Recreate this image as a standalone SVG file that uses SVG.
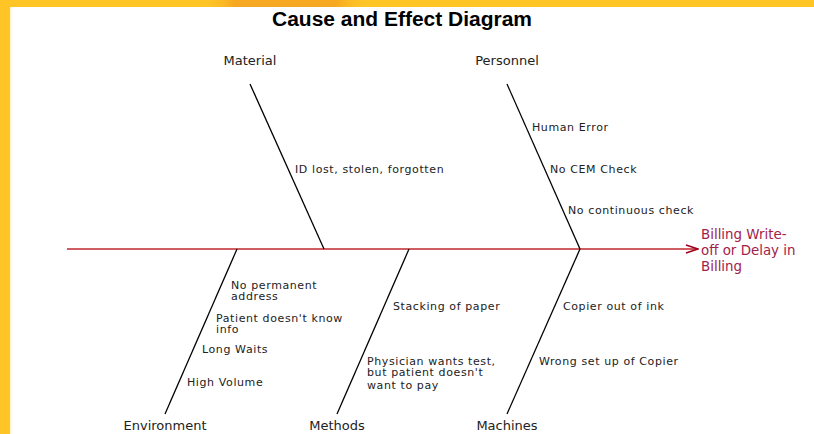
<svg xmlns="http://www.w3.org/2000/svg" width="814" height="434" viewBox="0 0 814 434">
  <defs>
    <linearGradient id="blob" x1="0" y1="0" x2="1" y2="0">
      <stop offset="0" stop-color="#FFC526" stop-opacity="0"/>
      <stop offset="0.2" stop-color="#F7A822"/>
      <stop offset="0.8" stop-color="#F7A822"/>
      <stop offset="1" stop-color="#FFC526" stop-opacity="0"/>
    </linearGradient>
    <linearGradient id="edge" x1="0" y1="0" x2="1" y2="0">
      <stop offset="0" stop-color="#FFF3C8"/>
      <stop offset="1" stop-color="#FFFFFF"/>
    </linearGradient>
    <marker id="arrow" viewBox="0 0 14 10" refX="13" refY="5" markerWidth="14" markerHeight="10" markerUnits="userSpaceOnUse" orient="auto">
      <path d="M1,1 L13,5 L1,9" fill="none" stroke="#A0001E" stroke-width="1.6"/>
    </marker>
    <style>
      .bone { stroke: #000; stroke-width: 1.3; fill: none; }
      .spine { stroke: #C0272D; stroke-width: 1.4; fill: none; }
      .cat { font-family: "DejaVu Sans", Verdana, sans-serif; font-size: 13px; fill: #222; }
      .lbl { font-family: "DejaVu Sans", Verdana, sans-serif; font-size: 11px; letter-spacing: 0.6px; fill: #222; }
      .title { font-family: "Liberation Sans", Arial, sans-serif; font-size: 20px; font-weight: bold; fill: #000; }
      .effect { font-family: "DejaVu Sans", Verdana, sans-serif; font-size: 13.4px; fill: #A3214A; }
    </style>
  </defs>

  <!-- background frame -->
  <rect x="0" y="0" width="814" height="434" fill="#FFFFFF"/>
  <rect x="10" y="7" width="3" height="427" fill="url(#edge)"/>
  <rect x="0" y="0" width="814" height="7" fill="#FFC526"/>
  <rect x="0" y="0" width="10" height="434" fill="#FFC526"/>
  <rect x="200" y="0" width="170" height="7" fill="url(#blob)"/>

  <text class="title" x="402" y="26" text-anchor="middle" textLength="260" lengthAdjust="spacingAndGlyphs">Cause and Effect Diagram</text>

  <g id="connectors">
    <line class="spine" x1="67" y1="249" x2="698" y2="249" marker-end="url(#arrow)"/>
  </g>

  <g id="effect">
    <text class="effect" x="701" y="239">Billing Write-</text>
    <text class="effect" x="701" y="255">off or Delay in</text>
    <text class="effect" x="701" y="271">Billing</text>
  </g>

  <g id="material">
    <line class="bone" x1="250" y1="84" x2="324" y2="249"/>
    <text class="cat" x="250" y="65" text-anchor="middle">Material</text>
    <text class="lbl" x="295" y="173">ID lost, stolen, forgotten</text>
  </g>

  <g id="personnel">
    <line class="bone" x1="507" y1="84" x2="580" y2="249"/>
    <text class="cat" x="507" y="65" text-anchor="middle">Personnel</text>
    <text class="lbl" x="532" y="131">Human Error</text>
    <text class="lbl" x="550" y="173">No CEM Check</text>
    <text class="lbl" x="568" y="214">No continuous check</text>
  </g>

  <g id="environment">
    <line class="bone" x1="237" y1="249" x2="165" y2="414"/>
    <text class="cat" x="165" y="430" text-anchor="middle">Environment</text>
    <text class="lbl" x="231" y="289">No permanent</text>
    <text class="lbl" x="231" y="300">address</text>
    <text class="lbl" x="216" y="322">Patient doesn't know</text>
    <text class="lbl" x="216" y="333">info</text>
    <text class="lbl" x="202" y="353">Long Waits</text>
    <text class="lbl" x="187" y="386">High Volume</text>
  </g>

  <g id="methods">
    <line class="bone" x1="409" y1="249" x2="337" y2="414"/>
    <text class="cat" x="337" y="430" text-anchor="middle">Methods</text>
    <text class="lbl" x="393" y="310">Stacking of paper</text>
    <text class="lbl" x="367" y="365">Physician wants test,</text>
    <text class="lbl" x="367" y="376">but patient doesn't</text>
    <text class="lbl" x="367" y="389">want to pay</text>
  </g>

  <g id="machines">
    <line class="bone" x1="580" y1="249" x2="507" y2="414"/>
    <text class="cat" x="507" y="430" text-anchor="middle">Machines</text>
    <text class="lbl" x="563" y="310">Copier out of ink</text>
    <text class="lbl" x="539" y="365">Wrong set up of Copier</text>
  </g>
</svg>
